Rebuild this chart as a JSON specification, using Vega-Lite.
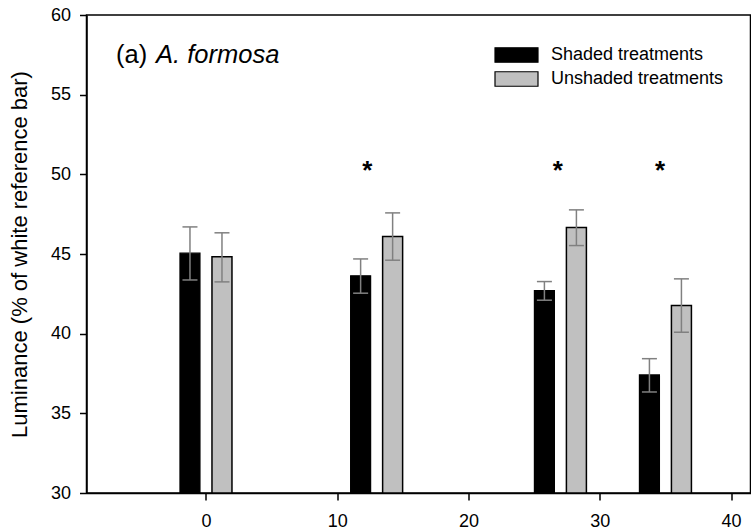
{
  "$schema": "https://vega.github.io/schema/vega-lite/v6.json",
  "width": 664,
  "height": 478,
  "autosize": "none",
  "padding": {"left": 86.5, "top": 15, "right": 0.5, "bottom": 38},
  "background": "white",
  "config": {
    "font": "Liberation Sans",
    "view": {"stroke": "black", "strokeWidth": 1.5},
    "axis": {
      "domainColor": "black", "domainWidth": 1.5, "tickColor": "black", "tickWidth": 1.5,
      "labelFont": "Liberation Sans", "labelFontSize": 18, "labelColor": "black",
      "titleFont": "Liberation Sans", "titleFontWeight": "normal", "titleColor": "black",
      "grid": false
    }
  },
  "datasets": {
    "bars": [
      {"day": 0, "treatment": "Shaded treatments", "mean": 45.05, "lo": 43.37, "hi": 46.7},
      {"day": 0, "treatment": "Unshaded treatments", "mean": 44.82, "lo": 43.25, "hi": 46.33},
      {"day": 13, "treatment": "Shaded treatments", "mean": 43.63, "lo": 42.54, "hi": 44.69},
      {"day": 13, "treatment": "Unshaded treatments", "mean": 46.1, "lo": 44.61, "hi": 47.58},
      {"day": 27, "treatment": "Shaded treatments", "mean": 42.7, "lo": 42.1, "hi": 43.27},
      {"day": 27, "treatment": "Unshaded treatments", "mean": 46.66, "lo": 45.53, "hi": 47.77},
      {"day": 35, "treatment": "Shaded treatments", "mean": 37.41, "lo": 36.34, "hi": 38.43},
      {"day": 35, "treatment": "Unshaded treatments", "mean": 41.76, "lo": 40.09, "hi": 43.44}
    ],
    "stars": [
      {"x": 12.3, "label": "*"},
      {"x": 26.8, "label": "*"},
      {"x": 34.6, "label": "*"}
    ]
  },
  "layer": [
    {
      "data": {"name": "bars"},
      "transform": [{"filter": "datum.treatment === 'Shaded treatments'"}],
      "mark": {"type": "bar", "width": 20, "xOffset": -16, "stroke": "black", "strokeWidth": 1.2},
      "encoding": {
        "x": {"field": "day", "type": "quantitative",
              "scale": {"domain": [-8.72, 41.1], "nice": false, "zero": false},
              "axis": {"values": [0, 10, 20, 30, 40], "title": null, "tickSize": 7, "labelPadding": 12, "labelFlush": false}},
        "y": {"field": "mean", "type": "quantitative",
              "scale": {"domain": [30, 60], "nice": false, "zero": false},
              "axis": {"values": [30, 35, 40, 45, 50, 55, 60], "title": "Luminance (% of white reference bar)",
                       "titleFontSize": 22, "titlePadding": 19, "tickSize": 7, "labelPadding": 9}},
        "y2": {"datum": 30},
        "color": {"field": "treatment", "type": "nominal",
                  "scale": {"domain": ["Shaded treatments", "Unshaded treatments"], "range": ["black", "#c0c0c0"]},
                  "legend": {"title": null, "orient": "none", "legendX": 419, "legendY": 29, "padding": 0,
                             "symbolType": "M-2.15,-0.725H2.15V0.725H-2.15Z", "symbolSize": 400,
                             "symbolStrokeColor": "black", "symbolStrokeWidth": 1.2, "symbolOpacity": 1,
                             "labelFont": "Liberation Sans", "labelFontSize": 18, "labelColor": "black",
                             "labelLimit": 400, "labelOffset": 23.5, "rowPadding": 3}}
      }
    },
    {
      "data": {"name": "bars"},
      "transform": [{"filter": "datum.treatment === 'Unshaded treatments'"}],
      "mark": {"type": "bar", "width": 20, "xOffset": 16, "stroke": "black", "strokeWidth": 1.5},
      "encoding": {
        "x": {"field": "day", "type": "quantitative"},
        "y": {"field": "mean", "type": "quantitative"},
        "y2": {"datum": 30},
        "color": {"field": "treatment", "type": "nominal"}
      }
    },
    {
      "data": {"name": "bars"},
      "transform": [{"filter": "datum.treatment === 'Shaded treatments'"}],
      "mark": {"type": "rule", "xOffset": -16, "color": "#808080", "strokeWidth": 1.5},
      "encoding": {
        "x": {"field": "day", "type": "quantitative"},
        "y": {"field": "lo", "type": "quantitative"},
        "y2": {"field": "hi"}
      }
    },
    {
      "data": {"name": "bars"},
      "transform": [{"filter": "datum.treatment === 'Unshaded treatments'"}],
      "mark": {"type": "rule", "xOffset": 16, "color": "#808080", "strokeWidth": 1.5},
      "encoding": {
        "x": {"field": "day", "type": "quantitative"},
        "y": {"field": "lo", "type": "quantitative"},
        "y2": {"field": "hi"}
      }
    },
    {
      "data": {"name": "bars"},
      "transform": [
        {"filter": "datum.treatment === 'Shaded treatments'"},
        {"fold": ["lo", "hi"], "as": ["end", "val"]}
      ],
      "mark": {"type": "tick", "orient": "horizontal", "xOffset": -16, "size": 15, "thickness": 1.5, "color": "#808080", "opacity": 1},
      "encoding": {
        "x": {"field": "day", "type": "quantitative"},
        "y": {"field": "val", "type": "quantitative"}
      }
    },
    {
      "data": {"name": "bars"},
      "transform": [
        {"filter": "datum.treatment === 'Unshaded treatments'"},
        {"fold": ["lo", "hi"], "as": ["end", "val"]}
      ],
      "mark": {"type": "tick", "orient": "horizontal", "xOffset": 16, "size": 15, "thickness": 1.5, "color": "#808080", "opacity": 1},
      "encoding": {
        "x": {"field": "day", "type": "quantitative"},
        "y": {"field": "val", "type": "quantitative"}
      }
    },
    {
      "data": {"name": "stars"},
      "mark": {"type": "text", "fontSize": 26, "fontWeight": "bold", "font": "Liberation Sans", "baseline": "alphabetic", "align": "center", "color": "black"},
      "encoding": {
        "x": {"field": "x", "type": "quantitative"},
        "y": {"datum": 49.7},
        "text": {"field": "label"}
      }
    },
    {
      "data": {"values": [{"t": "(a)"}]},
      "mark": {"type": "text", "fontSize": 25.5, "font": "Liberation Sans", "baseline": "alphabetic", "align": "left", "color": "black"},
      "encoding": {
        "x": {"datum": -6.85},
        "y": {"datum": 56.97},
        "text": {"field": "t"}
      }
    },
    {
      "data": {"values": [{"t": "A. formosa"}]},
      "mark": {"type": "text", "fontSize": 25.5, "font": "Liberation Sans", "fontStyle": "italic", "baseline": "alphabetic", "align": "left", "color": "black"},
      "encoding": {
        "x": {"datum": -3.8},
        "y": {"datum": 56.97},
        "text": {"field": "t"}
      }
    }
  ]
}
